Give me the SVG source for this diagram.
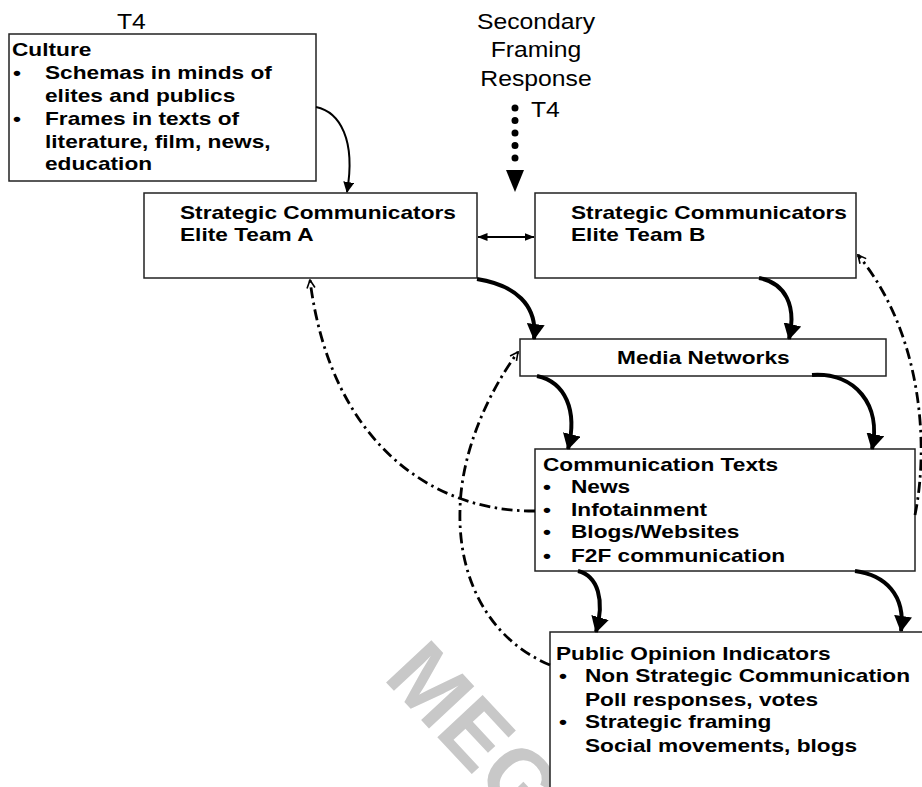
<svg xmlns="http://www.w3.org/2000/svg" width="922" height="787" viewBox="0 0 922 787">
<style>
.box{fill:#fff;stroke:#222;stroke-width:1.5}
.b{font-family:"Liberation Sans",Arial,sans-serif;font-weight:bold;font-size:18px;fill:#000}
.r{font-family:"Liberation Sans",Arial,sans-serif;font-size:21.5px;fill:#000}
.thick{fill:none;stroke:#000;stroke-width:4}
.thin{fill:none;stroke:#000;stroke-width:2}
.dd{fill:none;stroke:#000;stroke-width:2.8;stroke-dasharray:11 4.5 2.5 4.5}
.wm{font-family:"Liberation Sans",Arial,sans-serif;font-weight:bold;font-size:90px;fill:#c8c8c8}
</style>
<defs>
<marker id="big" viewBox="0 0 16 18" refX="15" refY="9" markerWidth="16" markerHeight="18" markerUnits="userSpaceOnUse" orient="auto"><path d="M0,0 L16,9 L0,18 z" fill="#000"/></marker>
<marker id="small" viewBox="0 0 11 11" refX="10" refY="5.5" markerWidth="11" markerHeight="11" markerUnits="userSpaceOnUse" orient="auto"><path d="M0,0 L11,5.5 L0,11 z" fill="#000"/></marker>
<marker id="dbl" viewBox="0 0 10 8" refX="9.5" refY="4" markerWidth="10" markerHeight="8" markerUnits="userSpaceOnUse" orient="auto-start-reverse"><path d="M0,0 L10,4 L0,8 z" fill="#000"/></marker>
<marker id="open" viewBox="0 0 10 10" refX="9" refY="5" markerWidth="10" markerHeight="10" markerUnits="userSpaceOnUse" orient="auto"><path d="M1,1 L9,5 L1,9" fill="none" stroke="#000" stroke-width="1.6"/></marker>
</defs>
<rect width="922" height="787" fill="#fff"/>

<g id="watermark">
<text class="wm" transform="translate(382 678) rotate(47)">MEG</text>
</g>

<g id="culture">
<text class="r" transform="translate(117 29) scale(1.15 1)">T4</text>
<rect class="box" x="9" y="34" width="307" height="147"/>
<text class="b" transform="translate(12 56) scale(1.26 1)">Culture</text>
<text class="b" transform="translate(13 79) scale(1.26 1)">•</text>
<text class="b" transform="translate(45 79) scale(1.26 1)">Schemas in minds of</text>
<text class="b" transform="translate(45 102) scale(1.26 1)">elites and publics</text>
<text class="b" transform="translate(13 125) scale(1.26 1)">•</text>
<text class="b" transform="translate(45 125) scale(1.26 1)">Frames in texts of</text>
<text class="b" transform="translate(45 148) scale(1.26 1)">literature, film, news,</text>
<text class="b" transform="translate(45 170) scale(1.26 1)">education</text>
</g>

<g id="secondary">
<text class="r" text-anchor="middle" transform="translate(536 29) scale(1.15 1)">Secondary</text>
<text class="r" text-anchor="middle" transform="translate(536 57) scale(1.15 1)">Framing</text>
<text class="r" text-anchor="middle" transform="translate(536 86) scale(1.15 1)">Response</text>
<text class="r" transform="translate(531 117) scale(1.15 1)">T4</text>
</g>

<g id="teamA">
<rect class="box" x="144" y="193" width="333" height="85"/>
<text class="b" transform="translate(180 219) scale(1.26 1)">Strategic Communicators</text>
<text class="b" transform="translate(180 241) scale(1.26 1)">Elite Team A</text>
</g>

<g id="teamB">
<rect class="box" x="535" y="193" width="321" height="85"/>
<text class="b" transform="translate(571 219) scale(1.26 1)">Strategic Communicators</text>
<text class="b" transform="translate(571 241) scale(1.26 1)">Elite Team B</text>
</g>

<g id="media">
<rect class="box" x="520" y="339" width="366" height="37"/>
<text class="b" transform="translate(617 364) scale(1.26 1)">Media Networks</text>
</g>

<g id="commTexts">
<rect class="box" x="535" y="449" width="380" height="122"/>
<text class="b" transform="translate(543 471) scale(1.26 1)">Communication Texts</text>
<text class="b" transform="translate(543 493) scale(1.26 1)">•</text>
<text class="b" transform="translate(571 493) scale(1.26 1)">News</text>
<text class="b" transform="translate(543 516) scale(1.26 1)">•</text>
<text class="b" transform="translate(571 516) scale(1.26 1)">Infotainment</text>
<text class="b" transform="translate(543 538) scale(1.26 1)">•</text>
<text class="b" transform="translate(571 538) scale(1.26 1)">Blogs/Websites</text>
<text class="b" transform="translate(543 562) scale(1.26 1)">•</text>
<text class="b" transform="translate(571 562) scale(1.26 1)">F2F communication</text>
</g>

<g id="publicOpinion">
<rect class="box" x="550" y="632" width="400" height="200"/>
<text class="b" transform="translate(556 660) scale(1.26 1)">Public Opinion Indicators</text>
<text class="b" transform="translate(559 682) scale(1.26 1)">•</text>
<text class="b" transform="translate(585 682) scale(1.26 1)">Non Strategic Communication</text>
<text class="b" transform="translate(585 706) scale(1.26 1)">Poll responses, votes</text>
<text class="b" transform="translate(559 728) scale(1.26 1)">•</text>
<text class="b" transform="translate(585 728) scale(1.26 1)">Strategic framing</text>
<text class="b" transform="translate(585 752) scale(1.26 1)">Social movements, blogs</text>
</g>

<g id="connectors">
<path class="thin" d="M316,107 C340,112 356,140 347,192" marker-end="url(#small)"/>
<line x1="515" y1="108" x2="515" y2="160" stroke="#000" stroke-width="7" stroke-linecap="round" stroke-dasharray="0 12.5"/>
<polygon points="506,170 524,170 515,192" fill="#000"/>
<line x1="478" y1="237" x2="534" y2="237" stroke="#000" stroke-width="2" marker-start="url(#dbl)" marker-end="url(#dbl)"/>
<path class="thick" d="M477,279 C515,285 538,305 534,339" marker-end="url(#big)"/>
<path class="thick" d="M759,278 C785,283 797,305 789,339" marker-end="url(#big)"/>
<path class="thick" d="M537,376 C565,382 578,410 568,449" marker-end="url(#big)"/>
<path class="thick" d="M812,375 C855,372 882,405 872,449" marker-end="url(#big)"/>
<path class="thick" d="M578,571 C598,576 605,600 596,632" marker-end="url(#big)"/>
<path class="thick" d="M855,571 C885,575 906,595 901,631" marker-end="url(#big)"/>
<path class="dd" d="M535,511 C430,512 330,440 310,280" marker-end="url(#open)"/>
<path class="dd" d="M550,665 C490,640 458,580 460,510 C461,450 490,390 518,352" marker-end="url(#open)"/>
<path class="dd" d="M915,515 C930,440 920,330 858,255" marker-end="url(#open)"/>
</g>
</svg>
